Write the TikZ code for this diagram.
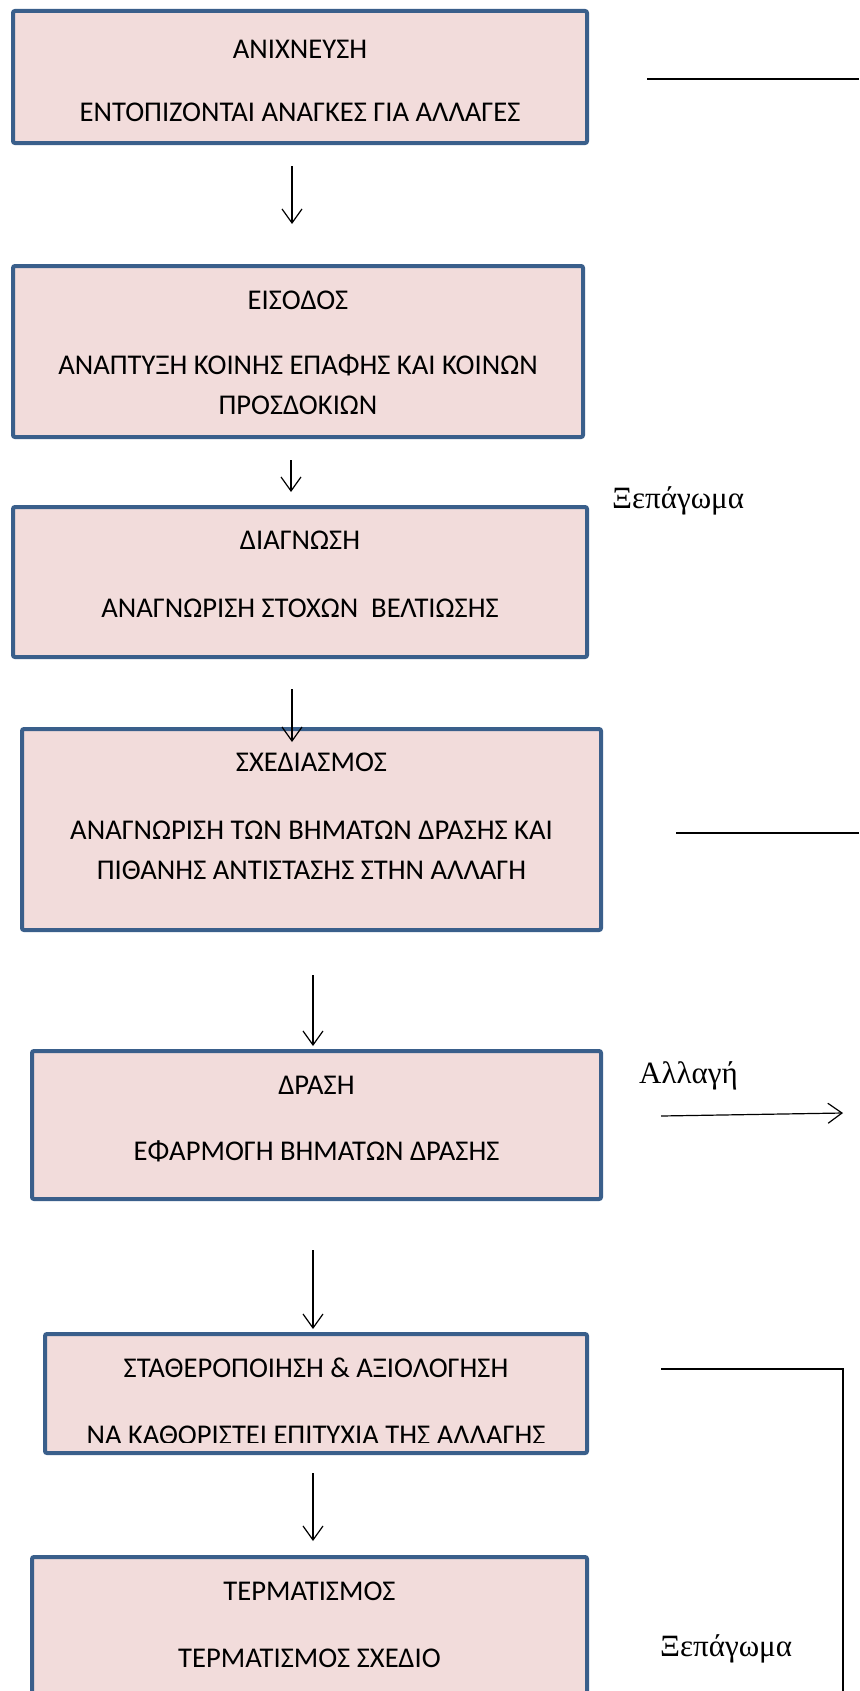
\documentclass[tikz,border=0pt]{standalone}
\usepackage{fontspec}
\setmainfont{Carlito}
\newfontfamily\tnr{Liberation Serif}
\usetikzlibrary{arrows.meta,calc}
\definecolor{boxfill}{HTML}{F2DCDB}
\definecolor{boxline}{HTML}{3A5F8B}
\begin{document}
\begin{tikzpicture}[x=1pt,y=-1pt,
    box/.style={draw=boxline,fill=boxfill,line width=4pt,rounded corners=2pt,inner sep=0pt},
    txt/.style={font=\fontsize{28.6}{40}\selectfont,align=center,inner sep=0pt},
    lbl/.style={font=\tnr\fontsize{31}{36}\selectfont,anchor=base west,inner sep=0pt},
    arr/.style={-{Straight Barb[length=14pt,width=20pt]},line width=1.2pt}]
    \clip (0,0) rectangle (859,1691);
    \fill[white] (0,0) rectangle (859,1691);
    \node[box,minimum width=574pt,minimum height=132pt] (anix) at (300,77) {};
    \node[txt] (anixt) at ($(anix.north)+(0,40)$) {ΑΝΙΧΝΕΥΣΗ};
    \node[txt] (anixb) at ($(anix.north)+(0,103)$) {ΕΝΤΟΠΙΖΟΝΤΑΙ ΑΝΑΓΚΕΣ ΓΙΑ ΑΛΛΑΓΕΣ};
    \node[box,minimum width=570pt,minimum height=171pt] (eisod) at (298,351.5) {};
    \node[txt] (eisodt) at ($(eisod.north)+(0,36)$) {ΕΙΣΟΔΟΣ};
    \node[txt] (eisodb) at ($(eisod.north)+(0,121)$) {ΑΝΑΠΤΥΞΗ ΚΟΙΝΗΣ ΕΠΑΦΗΣ ΚΑΙ ΚΟΙΝΩΝ\\ΠΡΟΣΔΟΚΙΩΝ};
    \node[box,minimum width=574pt,minimum height=150pt] (diagn) at (300,582) {};
    \node[txt] (diagnt) at ($(diagn.north)+(0,35)$) {ΔΙΑΓΝΩΣΗ};
    \node[txt] (diagnb) at ($(diagn.north)+(0,103)$) {ΑΝΑΓΝΩΡΙΣΗ ΣΤΟΧΩΝ\ \ ΒΕΛΤΙΩΣΗΣ};
    \node[box,minimum width=579pt,minimum height=201pt] (sxed) at (311.5,829.5) {};
    \node[txt] (sxedt) at ($(sxed.north)+(0,35)$) {ΣΧΕΔΙΑΣΜΟΣ};
    \node[txt] (sxedb) at ($(sxed.north)+(0,123)$) {ΑΝΑΓΝΩΡΙΣΗ ΤΩΝ ΒΗΜΑΤΩΝ ΔΡΑΣΗΣ ΚΑΙ\\ΠΙΘΑΝΗΣ ΑΝΤΙΣΤΑΣΗΣ ΣΤΗΝ ΑΛΛΑΓΗ};
    \node[box,minimum width=569pt,minimum height=148pt] (drasi) at (316.5,1125) {};
    \node[txt] (drasit) at ($(drasi.north)+(0,36)$) {ΔΡΑΣΗ};
    \node[txt] (drasib) at ($(drasi.north)+(0,102)$) {ΕΦΑΡΜΟΓΗ ΒΗΜΑΤΩΝ ΔΡΑΣΗΣ};
    \node[box,minimum width=542pt,minimum height=119pt] (stath) at (316,1393.5) {};
    \node[txt] (statht) at ($(stath.north)+(0,36)$) {ΣΤΑΘΕΡΟΠΟΙΗΣΗ \& ΑΞΙΟΛΟΓΗΣΗ};
    \begin{scope}
        \clip ($(stath.north west)+(3,3)$) rectangle ($(stath.south east)+(-3,-13)$);
        \node[txt] (stathb) at ($(stath.north)+(0,103)$) {ΝΑ ΚΑΘΟΡΙΣΤΕΙ ΕΠΙΤΥΧΙΑ ΤΗΣ ΑΛΛΑΓΗΣ};
    \end{scope}
    \node[box,minimum width=555pt,minimum height=166pt] (term) at (309.5,1640) {};
    \node[txt] (termt) at ($(term.north)+(0,36)$) {ΤΕΡΜΑΤΙΣΜΟΣ};
    \node[txt] (termb) at ($(term.north)+(0,103)$) {ΤΕΡΜΑΤΙΣΜΟΣ ΣΧΕΔΙΟ};
    \draw[arr] ($(anix.south)+(-8,21)$) -- ($(eisod.north)+(-6,-40)$);
    \draw[arr] ($(eisod.south)+(-7,21)$) -- ($(diagn.north)+(-9,-13)$);
    \draw[arr] ($(diagn.south)+(-8,30)$) -- ($(sxed.north)+(-19.5,15)$);
    \draw[arr] ($(sxed.south)+(1.5,43)$) -- ($(drasi.north)+(-3.5,-3)$);
    \draw[arr] ($(drasi.south)+(-3.5,49)$) -- ($(stath.north)+(-3,-3)$);
    \draw[arr] ($(stath.south)+(-3,18)$) -- ($(term.north)+(3.5,-14)$);
    \coordinate (top1) at (647,79);
    \coordinate (top2) at (859,79);
    \draw[line width=1.6pt] (top1) -- (top2);
    \node[lbl] (xep1) at (612,508) {Ξεπάγωμα};
    \coordinate (mid1) at (676,833);
    \coordinate (mid2) at (859,833);
    \draw[line width=1.6pt] (mid1) -- (mid2);
    \node[lbl] (allagi) at (639,1083) {Αλλαγή};
    \coordinate (all1) at (661,1116);
    \coordinate (all2) at (843,1113);
    \draw[arr] (all1) -- (all2);
    \coordinate (br1) at (661,1369);
    \coordinate (br2) at (843,1369);
    \coordinate (br3) at (843,1700);
    \draw[line width=1.4pt] (br1) -- (br2) -- (br3);
    \node[lbl] (xep2) at (660,1656) {Ξεπάγωμα};
\end{tikzpicture}
\end{document}
